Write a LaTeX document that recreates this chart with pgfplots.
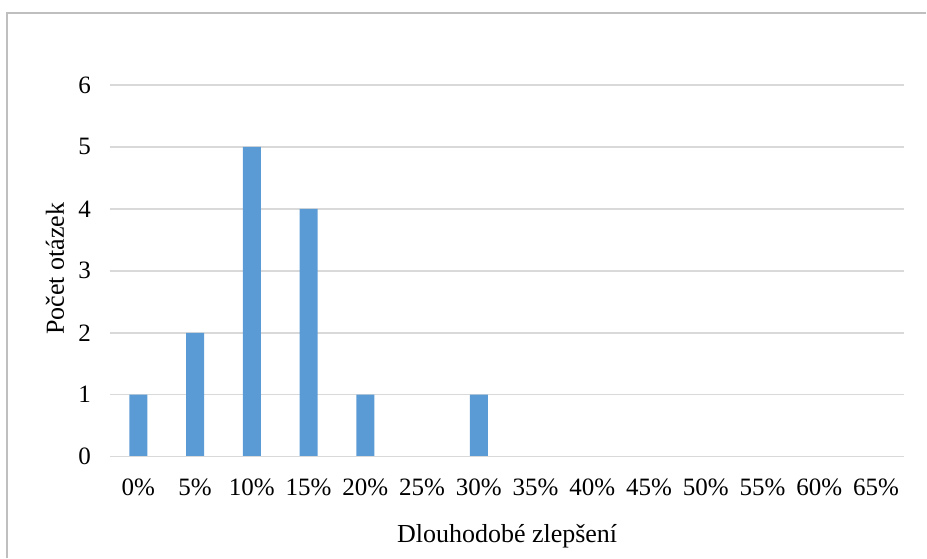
\documentclass[border=0pt]{standalone}
\usepackage{fontspec}
\setmainfont{Liberation Serif}
\usepackage{pgfplots}
\pgfplotsset{compat=1.18}
\definecolor{barblue}{HTML}{5B9BD5}
\definecolor{gridgray}{HTML}{D9D9D9}
\definecolor{framegray}{HTML}{BFBFBF}
\begin{document}
\begin{tikzpicture}
\path (0,0) rectangle (463.5pt,279pt);
\draw[framegray, line width=0.6pt] (3.5pt,0pt) -- (3.5pt,272.5pt) -- (463.5pt,272.5pt);
\begin{axis}[
  at={(55pt,50.5pt)}, anchor=south west,
  scale only axis, width=397.5pt, height=186pt,
  xmin=-0.5, xmax=13.5, ymin=0, ymax=6,
  axis line style={draw=none},
  ybar, bar width=9pt,
  xtick={0,...,13},
  xticklabels={0\%,5\%,10\%,15\%,20\%,25\%,30\%,35\%,40\%,45\%,50\%,55\%,60\%,65\%},
  ytick={0,...,6},
  ymajorgrids, grid style={gridgray, line width=0.75pt},
  major tick length=0pt,
  tick label style={font=\fontsize{12.5}{14}\selectfont},
  /pgf/number format/assume math mode=true,
  xticklabel style={yshift=-7.5pt},
  yticklabel style={xshift=-6pt},
  xlabel={Dlouhodobé zlepšení},
  ylabel={Počet otázek},
  label style={font=\fontsize{13}{15}\selectfont},
  xlabel style={at={(axis description cs:0.5,0)}, anchor=center, yshift=-40pt},
  ylabel style={at={(axis description cs:0,0.5)}, anchor=center, yshift=27.5pt, xshift=1pt},
  clip=false,
]
\addplot[fill=barblue, draw=none] coordinates {(0,1) (1,2) (2,5) (3,4) (4,1) (5,0) (6,1) (7,0) (8,0) (9,0) (10,0) (11,0) (12,0) (13,0)};
\draw[gridgray, line width=0.75pt] (axis cs:-0.5,0) -- (axis cs:13.5,0);
\end{axis}
\end{tikzpicture}
\end{document}
